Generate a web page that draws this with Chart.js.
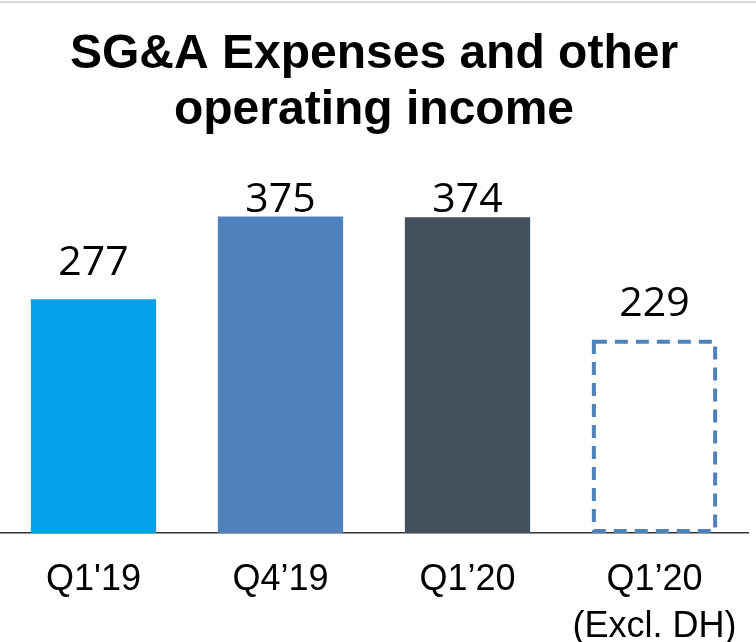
<!DOCTYPE html>
<html>
<head>
<meta charset="utf-8">
<script src="https://cdn.jsdelivr.net/npm/chart.js@4"></script>
<style>
    html, body { margin: 0; padding: 0; background: #fff; }
    #wrap { position: relative; width: 756px; height: 642px; overflow: hidden; }
    #topline { position: absolute; left: 0; top: 1px; width: 756px; height: 2px; background: #d9d9d9; }
</style>
</head>
<body>
<div id="wrap">
    <div id="topline"></div>
    <canvas id="sgaChart" width="756" height="642"></canvas>
</div>
<script>
const categories = [["Q1'19"], ["Q4\u201919"], ["Q1\u201920"], ["Q1\u201920", "(Excl. DH)"]];
const values = [277, 375, 374, 229];
const barColors = ['#06A0E9', '#4F81BD', '#434F5B', 'rgba(0, 0, 0, 0)'];
const dashedIndex = 3;

// Etiquetas de valor encima de cada barra
const valueLabels = {
    id: 'valueLabels',
    afterDatasetsDraw(chart) {
        const ctx = chart.ctx;
        const meta = chart.getDatasetMeta(0);
        ctx.save();
        ctx.font = '41px "Open Sans"';
        ctx.fillStyle = '#000';
        ctx.textAlign = 'center';
        ctx.textBaseline = 'alphabetic';
        meta.data.forEach((bar, i) => {
            const y = Math.max(bar.y - 24, chart.chartArea.top + 17);
            ctx.fillText(String(values[i]), bar.x, y);
        });
        ctx.restore();
    }
};

// Barra con borde discontinuo (Q1'20 sin DH)
const dashedBar = {
    id: 'dashedBar',
    afterDatasetsDraw(chart) {
        const bar = chart.getDatasetMeta(0).data[dashedIndex];
        if (!bar) return;
        const ctx = chart.ctx;
        const half = bar.width / 2;
        ctx.save();
        ctx.strokeStyle = '#4F81BD';
        ctx.lineWidth = 4;
        ctx.setLineDash([13, 8]);
        ctx.strokeRect(bar.x - half + 2, bar.y + 2, bar.width - 4, bar.base - bar.y - 4);
        ctx.restore();
    }
};

const ctx = document.getElementById('sgaChart').getContext('2d');
new Chart(ctx, {
    type: 'bar',
    data: {
        labels: categories,
        datasets: [{
            data: values,
            backgroundColor: barColors,
            borderWidth: 0,
            categoryPercentage: 1,
            barPercentage: 0.67
        }]
    },
    options: {
        responsive: false,
        animation: false,
        layout: {
            padding: { left: 0, right: 8, top: 0, bottom: 0 }
        },
        scales: {
            x: {
                grid: { display: false, drawTicks: false },
                border: { display: true, color: '#333', width: 1.5 },
                ticks: {
                    color: '#000',
                    padding: 24,
                    font: { family: '"Liberation Sans", Arial', size: 36, lineHeight: 1.3 }
                },
                afterFit(scale) {
                    // altura fija del eje y sin margen lateral extra
                    scale.height = 109;
                    scale.paddingLeft = 0;
                    scale.paddingRight = 0;
                }
            },
            y: {
                display: false,
                min: 0,
                max: 400
            }
        },
        plugins: {
            legend: { display: false },
            tooltip: { enabled: false },
            title: {
                display: true,
                text: ['SG&A Expenses and other', 'operating income'],
                color: '#000',
                font: { family: '"Liberation Sans", Arial', size: 48, weight: 'bold', lineHeight: 1.17 },
                padding: { top: 27, bottom: 56 }
            }
        }
    },
    plugins: [valueLabels, dashedBar]
});
</script>
</body>
</html>
